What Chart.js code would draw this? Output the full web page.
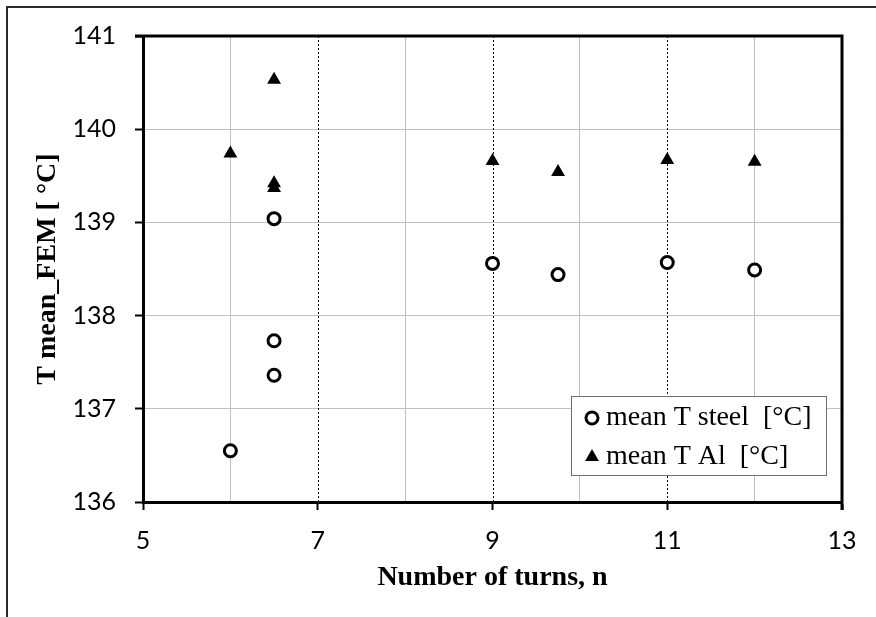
<!DOCTYPE html>
<html>
<head>
<meta charset="utf-8">
<script src="https://cdn.jsdelivr.net/npm/chart.js@4.4.1/dist/chart.umd.min.js"></script>
<style>
  html, body { margin: 0; padding: 0; background: #fff; overflow: hidden; }
  #frame { position: absolute; left: 6px; top: 6px; width: 1000px; height: 1000px; border: 2px solid #2b2b2b; }
  #wrap { position: absolute; left: 0; top: 0; width: 876px; height: 617px; }
</style>
</head>
<body>
<div id="frame"></div>
<div id="wrap"><canvas id="chart" width="876" height="617"></canvas></div>
<script>
// --- data ---
const turnsSteel = [6, 6.5, 6.5, 6.5, 9, 9.75, 11, 12];
const tSteel = [136.55, 139.04, 137.73, 137.36, 138.56, 138.44, 138.57, 138.49];
const turnsAl = [6, 6.5, 6.5, 6.5, 9, 9.75, 11, 12];
const tAl = [139.74, 140.53, 139.42, 139.37, 139.66, 139.54, 139.67, 139.65];
const seriesLabels = ['mean T steel  [°C]', 'mean T Al  [°C]'];
const xMajor = [5, 7, 9, 11, 13];
const xDashed = [7, 9, 11];
const yRange = [136, 141];

const toPoints = (xs, ys) => xs.map((x, i) => ({ x: x, y: ys[i] }));
const isMajorX = v => xMajor.includes(v);

// dotted black verticals at the odd turns
const dashedGrid = {
  id: 'dashedGrid',
  beforeDatasetsDraw(chart) {
    const { ctx, chartArea, scales } = chart;
    ctx.save();
    ctx.strokeStyle = '#000';
    ctx.lineWidth = 1;
    ctx.setLineDash([2, 2]);
    xDashed.forEach(v => {
      const x = Math.round(scales.x.getPixelForValue(v)) + 0.5;
      ctx.beginPath();
      ctx.moveTo(x, chartArea.top);
      ctx.lineTo(x, chartArea.bottom);
      ctx.stroke();
    });
    ctx.restore();
  }
};

// top / right edges of the plot area
const plotFrame = {
  id: 'plotFrame',
  afterDatasetsDraw(chart) {
    const { ctx, chartArea } = chart;
    ctx.save();
    ctx.strokeStyle = '#000';
    ctx.lineWidth = 3;
    ctx.beginPath();
    ctx.moveTo(chartArea.left - 8, chartArea.top);
    ctx.lineTo(chartArea.right, chartArea.top);
    ctx.lineTo(chartArea.right, chartArea.bottom + 8);
    ctx.stroke();
    ctx.restore();
  }
};

// boxed legend in the lower right of the plot
const legendBox = {
  id: 'legendBox',
  afterDraw(chart) {
    const { ctx, chartArea } = chart;
    const w = 255, h = 79;
    const x0 = chartArea.right - 16 - w;
    const y0 = chartArea.bottom - 27 - h;
    ctx.save();
    ctx.fillStyle = '#fff';
    ctx.fillRect(x0, y0, w, h);
    ctx.strokeStyle = '#6f6f6f';
    ctx.lineWidth = 1;
    ctx.strokeRect(x0 + 0.5, y0 + 0.5, w, h);
    chart.data.datasets.forEach((ds, i) => {
      const cy = y0 + 22 + i * 39;
      ctx.fillStyle = ds.pointBackgroundColor;
      ctx.strokeStyle = ds.pointBorderColor;
      ctx.lineWidth = ds.pointBorderWidth;
      Chart.helpers.drawPoint(ctx, {
        pointStyle: ds.pointStyle, radius: ds.pointRadius,
        borderWidth: ds.pointBorderWidth, rotation: 0
      }, x0 + 21, cy);
      ctx.fillStyle = '#000';
      ctx.font = '28px "Liberation Serif"';
      ctx.textBaseline = 'middle';
      ctx.textAlign = 'left';
      ctx.fillText(ds.label, x0 + 35, cy);
    });
    ctx.restore();
  }
};

new Chart(document.getElementById('chart'), {
  type: 'scatter',
  data: {
    datasets: [
      {
        label: seriesLabels[0],
        data: toPoints(turnsSteel, tSteel),
        pointStyle: 'circle',
        pointRadius: 6,
        pointHoverRadius: 6,
        pointBackgroundColor: '#fff',
        pointBorderColor: '#000',
        pointBorderWidth: 3
      },
      {
        label: seriesLabels[1],
        data: toPoints(turnsAl, tAl),
        pointStyle: 'triangle',
        pointRadius: 8,
        pointHoverRadius: 8,
        pointBackgroundColor: '#000',
        pointBorderColor: '#000',
        pointBorderWidth: 0
      }
    ]
  },
  options: {
    responsive: false,
    animation: false,
    layout: { padding: { left: 0, top: 36, right: 34, bottom: 0 } },
    plugins: { legend: { display: false }, tooltip: { enabled: false } },
    scales: {
      x: {
        type: 'linear',
        min: 5, max: 13,
        afterFit: s => { s.height = 115; },
        ticks: {
          stepSize: 1, autoSkip: false, maxRotation: 0, padding: 16,
          color: '#000',
          font: { family: 'Lato', size: 25 },
          callback: v => (isMajorX(v) ? v : '')
        },
        grid: {
          color: c => (isMajorX(c.tick.value) ? 'rgba(0,0,0,0)' : '#c0c0c0'),
          lineWidth: 1,
          tickColor: c => (isMajorX(c.tick.value) ? '#000' : 'rgba(0,0,0,0)'),
          tickLength: 8,
          tickWidth: 2
        },
        border: { color: '#000', width: 3 },
        title: {
          display: true, text: 'Number of turns, n', color: '#000',
          font: { family: 'Liberation Serif', size: 28, weight: 'bold' },
          padding: { top: 0, bottom: 22 }
        }
      },
      y: {
        min: yRange[0], max: yRange[1],
        afterFit: s => { s.width = 143; },
        ticks: {
          stepSize: 1, padding: 19, color: '#000',
          font: { family: 'Lato', size: 25 }
        },
        grid: {
          color: c => (c.tick.value === yRange[0] || c.tick.value === yRange[1] ? 'rgba(0,0,0,0)' : '#c0c0c0'),
          lineWidth: 1,
          tickColor: '#000',
          tickLength: 8,
          tickWidth: 2
        },
        border: { color: '#000', width: 3 },
        title: {
          display: true, text: 'T mean_FEM [ °C]', color: '#000',
          font: { family: 'Liberation Serif', size: 28, weight: 'bold' },
          padding: { top: 31, bottom: 0 }
        }
      }
    }
  },
  plugins: [dashedGrid, plotFrame, legendBox]
});
</script>
</body>
</html>
